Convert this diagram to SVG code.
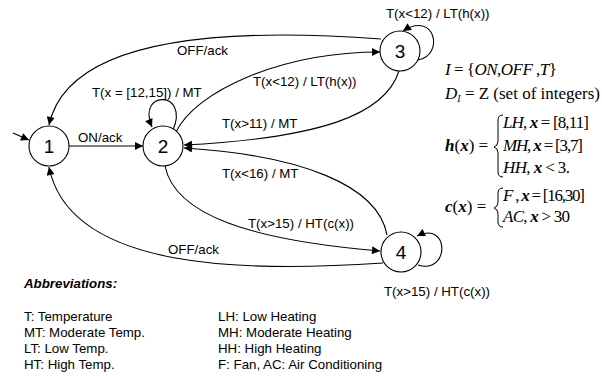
<svg xmlns="http://www.w3.org/2000/svg" width="602" height="377" viewBox="0 0 602 377">
<defs>
<marker id="arr" viewBox="0 0 10 10" refX="10" refY="5" markerWidth="9" markerHeight="8" markerUnits="userSpaceOnUse" orient="auto">
<path d="M0,0 L10,5 L0,10 z" fill="#000"/>
</marker>
<style>
.node circle{fill:#fff;stroke:#000;stroke-width:1.1}
.node text{font-family:"Liberation Sans",Arial,sans-serif;font-size:19px;text-anchor:middle;fill:#000}
.edge{fill:none;stroke:#000;stroke-width:1.1;marker-end:url(#arr)}
.lbl{font-family:"Liberation Sans",Arial,sans-serif;font-size:13.3px;fill:#000}
.abbr{font-family:"Liberation Sans",Arial,sans-serif;font-size:13.3px;fill:#000}
.math{font-family:"Liberation Serif","Times New Roman",serif;font-size:17px;fill:#000}
.it{font-style:italic}
.bi{font-style:italic;font-weight:bold}
.brace{fill:none;stroke:#000;stroke-width:1}
</style>
</defs>
<rect width="602" height="377" fill="#fff"/>

<g id="connectors">
<path class="edge" d="M13,133 L29,140"/>
<path class="edge" d="M69,146 L143,146"/>
<path class="edge" d="M381,39 C260,30 70,28 49,125"/>
<path class="edge" d="M173,130 C190,90 136,90 152,127"/>
<path class="edge" d="M176,132 C195,92 280,52 380,52"/>
<path class="edge" d="M399,71 C385,115 320,138 184,145"/>
<path class="edge" d="M387,235 C378,185 300,155 184,148"/>
<path class="edge" d="M165,166 C175,215 250,240 380,251"/>
<path class="edge" d="M383,263 C250,272 70,272 49,167"/>
<path class="edge" d="M418,60 C445,55 435,10 403,31"/>
<path class="edge" d="M418,265 C450,275 450,220 417,236"/>
</g>

<g id="labels">
<text class="lbl" x="78" y="142">ON/ack</text>
<text class="lbl" x="177" y="55">OFF/ack</text>
<text class="lbl" x="92" y="97">T(x = [12,15]) / MT</text>
<text class="lbl" x="253" y="86">T(x&lt;12) / LT(h(x))</text>
<text class="lbl" x="222" y="128">T(x&gt;11) / MT</text>
<text class="lbl" x="222" y="178">T(x&lt;16) / MT</text>
<text class="lbl" x="248" y="228">T(x&gt;15) / HT(c(x))</text>
<text class="lbl" x="168" y="254">OFF/ack</text>
<text class="lbl" x="386" y="18">T(x&lt;12) / LT(h(x))</text>
<text class="lbl" x="384" y="296">T(x&gt;15) / HT(c(x))</text>
</g>

<g id="node1" class="node"><circle cx="49" cy="146" r="20"/><text x="49" y="153">1</text></g>
<g id="node2" class="node"><circle cx="163" cy="146" r="20"/><text x="163" y="153">2</text></g>
<g id="node3" class="node"><circle cx="400" cy="51" r="20"/><text x="400" y="58">3</text></g>
<g id="node4" class="node"><circle cx="401" cy="252" r="20"/><text x="401" y="259">4</text></g>

<g id="definitions">
<text class="math" x="445" y="75" textLength="112"><tspan class="it">I</tspan> = {<tspan class="it">ON</tspan>,<tspan class="it">OFF</tspan> ,<tspan class="it">T</tspan>}</text>
<text class="math" x="445" y="99"><tspan class="it">D</tspan><tspan class="it" font-size="10" dy="3">I</tspan><tspan dy="-3"> = Z (set of integers)</tspan></text>
<text class="math" x="445" y="151"><tspan class="bi">h</tspan>(<tspan class="bi">x</tspan>) =</text>
<path class="brace" d="M503,115 Q498,115 498,120 L498,141 Q498,146 494,147 Q498,148 498,153 L498,172 Q498,177 503,177"/>
<text class="math" x="503" y="128" textLength="86"><tspan class="it">LH</tspan>, <tspan class="bi">x</tspan> = [8,11]</text>
<text class="math" x="503" y="151" textLength="80"><tspan class="it">MH</tspan>, <tspan class="bi">x</tspan> = [3,7]</text>
<text class="math" x="503" y="173" textLength="67"><tspan class="it">HH</tspan>, <tspan class="bi">x</tspan> &lt; 3.</text>
<text class="math" x="445" y="212"><tspan class="bi">c</tspan>(<tspan class="bi">x</tspan>) =</text>
<path class="brace" d="M503,188 Q498,188 498,193 L498,202 Q498,207 494,208 Q498,209 498,214 L498,222 Q498,227 503,227"/>
<text class="math" x="503" y="201" textLength="82"><tspan class="it">F</tspan> , <tspan class="bi">x</tspan> = [16,30]</text>
<text class="math" x="503" y="222" textLength="67"><tspan class="it">AC</tspan>, <tspan class="bi">x</tspan> &gt; 30</text>
</g>

<g id="abbreviations">
<text class="abbr" x="24" y="288" font-weight="bold" font-style="italic">Abbreviations:</text>
<text class="abbr" x="24" y="321">T: Temperature</text>
<text class="abbr" x="24" y="337">MT: Moderate Temp.</text>
<text class="abbr" x="24" y="353">LT: Low Temp.</text>
<text class="abbr" x="24" y="369">HT: High Temp.</text>
<text class="abbr" x="218" y="321">LH: Low Heating</text>
<text class="abbr" x="218" y="337">MH: Moderate Heating</text>
<text class="abbr" x="218" y="353">HH: High Heating</text>
<text class="abbr" x="218" y="369">F: Fan, AC: Air Conditioning</text>
</g>
</svg>
